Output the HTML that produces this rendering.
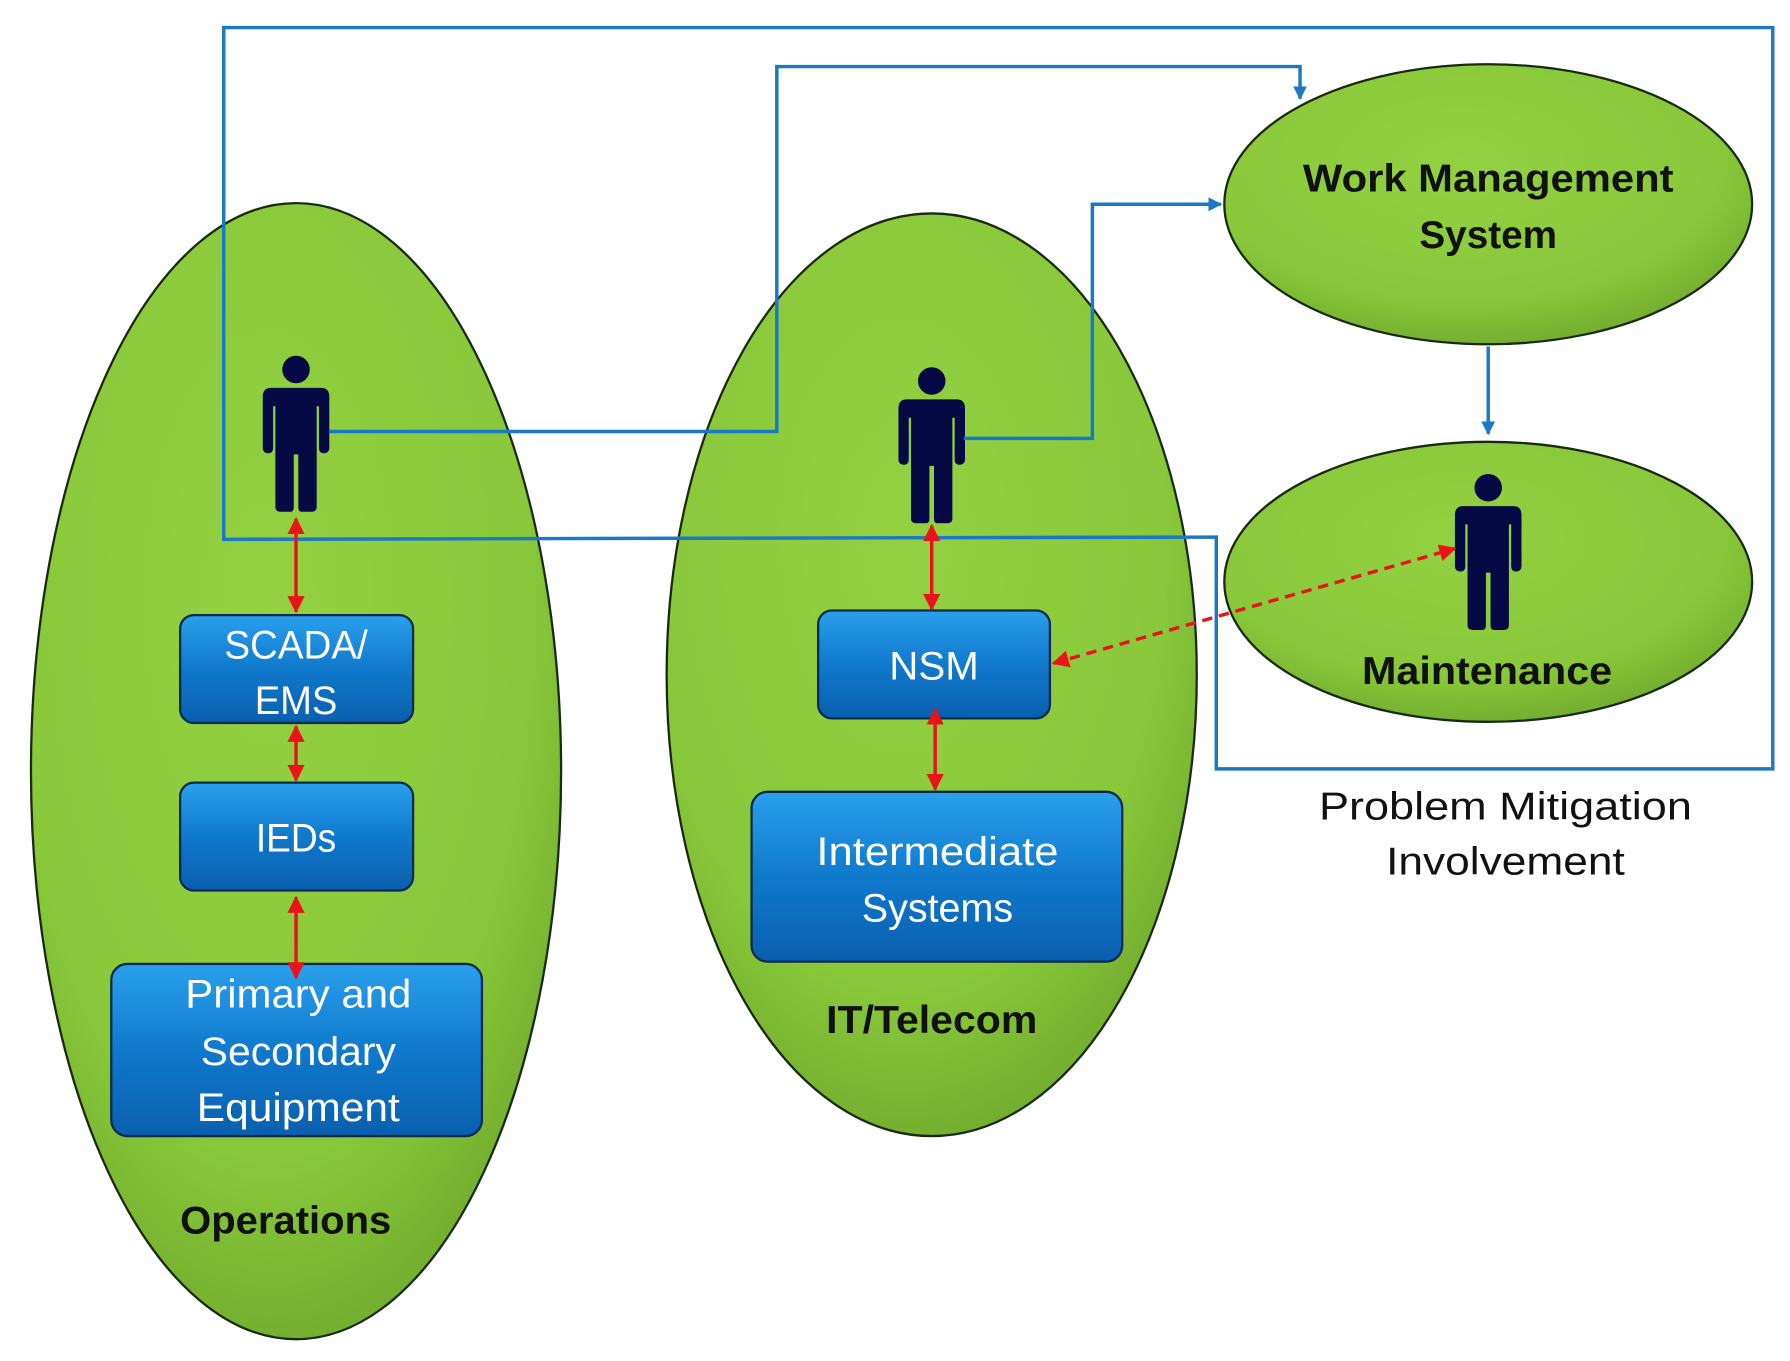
<!DOCTYPE html>
<html><head><meta charset="utf-8"><style>html,body{margin:0;padding:0;background:#fff}svg{display:block}</style></head>
<body>
<svg width="1790" height="1361" viewBox="0 0 1560 1186" preserveAspectRatio="none" xmlns="http://www.w3.org/2000/svg" font-family="Liberation Sans, sans-serif">
<defs>
<radialGradient id="g" cx="0.45" cy="0.35" r="0.7">
<stop offset="0" stop-color="#93d141"/><stop offset="0.7" stop-color="#88c83a"/><stop offset="1" stop-color="#6fa82c"/></radialGradient>
<linearGradient id="b" x1="0" y1="0" x2="0" y2="1">
<stop offset="0" stop-color="#2aa0ec"/><stop offset="0.5" stop-color="#1079cc"/><stop offset="1" stop-color="#0a5fae"/></linearGradient>
<marker id="ra" viewBox="0 0 10 10" refX="9" refY="5" markerWidth="5" markerHeight="5" orient="auto-start-reverse"><path d="M0,0 L10,5 L0,10 z" fill="#e8141a"/></marker>
<marker id="ba" viewBox="0 0 10 10" refX="9" refY="5" markerWidth="4" markerHeight="4" orient="auto"><path d="M0,0 L10,5 L0,10 z" fill="#1b78c4"/></marker>
<g id="p" fill="#050a45">
<circle cx="0" cy="-120" r="12"/>
<path d="M-22,-104 H22 Q29,-104 29,-96 V-52 Q29,-47 24,-47 Q20,-47 20,-52 V-88 H18 V0 Q18,4 13,4 H5 Q2,4 2,0 V-46 H-2 V0 Q-2,4 -5,4 H-13 Q-18,4 -18,0 V-88 H-20 V-52 Q-20,-47 -24,-47 Q-29,-47 -29,-52 V-96 Q-29,-104 -22,-104 z"/>
</g>
</defs>
<ellipse cx="258" cy="672" rx="231" ry="495" fill="url(#g)" stroke="#1a2a10" stroke-width="2"/>
<ellipse cx="812" cy="588" rx="231" ry="402" fill="url(#g)" stroke="#1a2a10" stroke-width="2"/>
<ellipse cx="1297" cy="178" rx="230" ry="122" fill="url(#g)" stroke="#1a2a10" stroke-width="2"/>
<ellipse cx="1297" cy="507" rx="230" ry="122" fill="url(#g)" stroke="#1a2a10" stroke-width="2"/>
<g fill="url(#b)" stroke="#0b2a50" stroke-width="2">
<rect x="157" y="536" width="203" height="94" rx="12"/>
<rect x="157" y="682" width="203" height="94" rx="12"/>
<rect x="97" y="840" width="323" height="150" rx="14"/>
<rect x="713" y="532" width="202" height="94" rx="12"/>
<rect x="655" y="690" width="323" height="148" rx="14"/>
</g>
<g fill="#fff" font-size="35" text-anchor="middle" lengthAdjust="spacingAndGlyphs">
<text x="258" y="574" textLength="125" lengthAdjust="spacingAndGlyphs">SCADA/</text><text x="258" y="622" textLength="72" lengthAdjust="spacingAndGlyphs">EMS</text>
<text x="258" y="742" textLength="70" lengthAdjust="spacingAndGlyphs">IEDs</text>
<text x="260" y="878" textLength="197" lengthAdjust="spacingAndGlyphs">Primary and</text><text x="260" y="928" textLength="170" lengthAdjust="spacingAndGlyphs">Secondary</text><text x="260" y="977" textLength="177" lengthAdjust="spacingAndGlyphs">Equipment</text>
<text x="814" y="592" textLength="78" lengthAdjust="spacingAndGlyphs">NSM</text>
<text x="817" y="754" textLength="211" lengthAdjust="spacingAndGlyphs">Intermediate</text><text x="817" y="803" textLength="132" lengthAdjust="spacingAndGlyphs">Systems</text>
</g>
<g font-size="34" font-weight="bold" text-anchor="middle" fill="#111">
<text x="1297" y="167" textLength="323" lengthAdjust="spacingAndGlyphs">Work Management</text><text x="1297" y="216" textLength="120" lengthAdjust="spacingAndGlyphs">System</text>
<text x="1296" y="596" textLength="218" lengthAdjust="spacingAndGlyphs">Maintenance</text>
<text x="249" y="1075" textLength="184" lengthAdjust="spacingAndGlyphs">Operations</text>
<text x="812" y="900" textLength="184" lengthAdjust="spacingAndGlyphs">IT/Telecom</text>
</g>
<g font-size="34" text-anchor="middle" fill="#111">
<text x="1312" y="714" textLength="325" lengthAdjust="spacingAndGlyphs">Problem Mitigation</text><text x="1312" y="762" textLength="208" lengthAdjust="spacingAndGlyphs">Involvement</text>
</g>
<use href="#p" x="258" y="442"/>
<use href="#p" x="812" y="452"/>
<use href="#p" x="1297" y="545"/>
<g fill="none" stroke="#1b78c4" stroke-width="3">
<path d="M195,470 V24 H1545 V670 H1060 V468 Z"/>
<path d="M287,376 H677 V58 H1133 V86" marker-end="url(#ba)"/>
<path d="M840,382 H952 V178 H1064" marker-end="url(#ba)"/>
<path d="M1297,302 V378" marker-end="url(#ba)"/>
</g>
<g stroke="#e8141a" stroke-width="3" fill="none">
<path d="M258,452 V533" marker-start="url(#ra)" marker-end="url(#ra)"/>
<path d="M258,633 V680" marker-start="url(#ra)" marker-end="url(#ra)"/>
<path d="M258,782 V852" marker-start="url(#ra)" marker-end="url(#ra)"/>
<path d="M812,458 V531" marker-start="url(#ra)" marker-end="url(#ra)"/>
<path d="M815,618 V688" marker-start="url(#ra)" marker-end="url(#ra)"/>
<path d="M918,578 L1268,478" stroke-dasharray="9,6" marker-start="url(#ra)" marker-end="url(#ra)"/>
</g>
</svg>
</body></html>
